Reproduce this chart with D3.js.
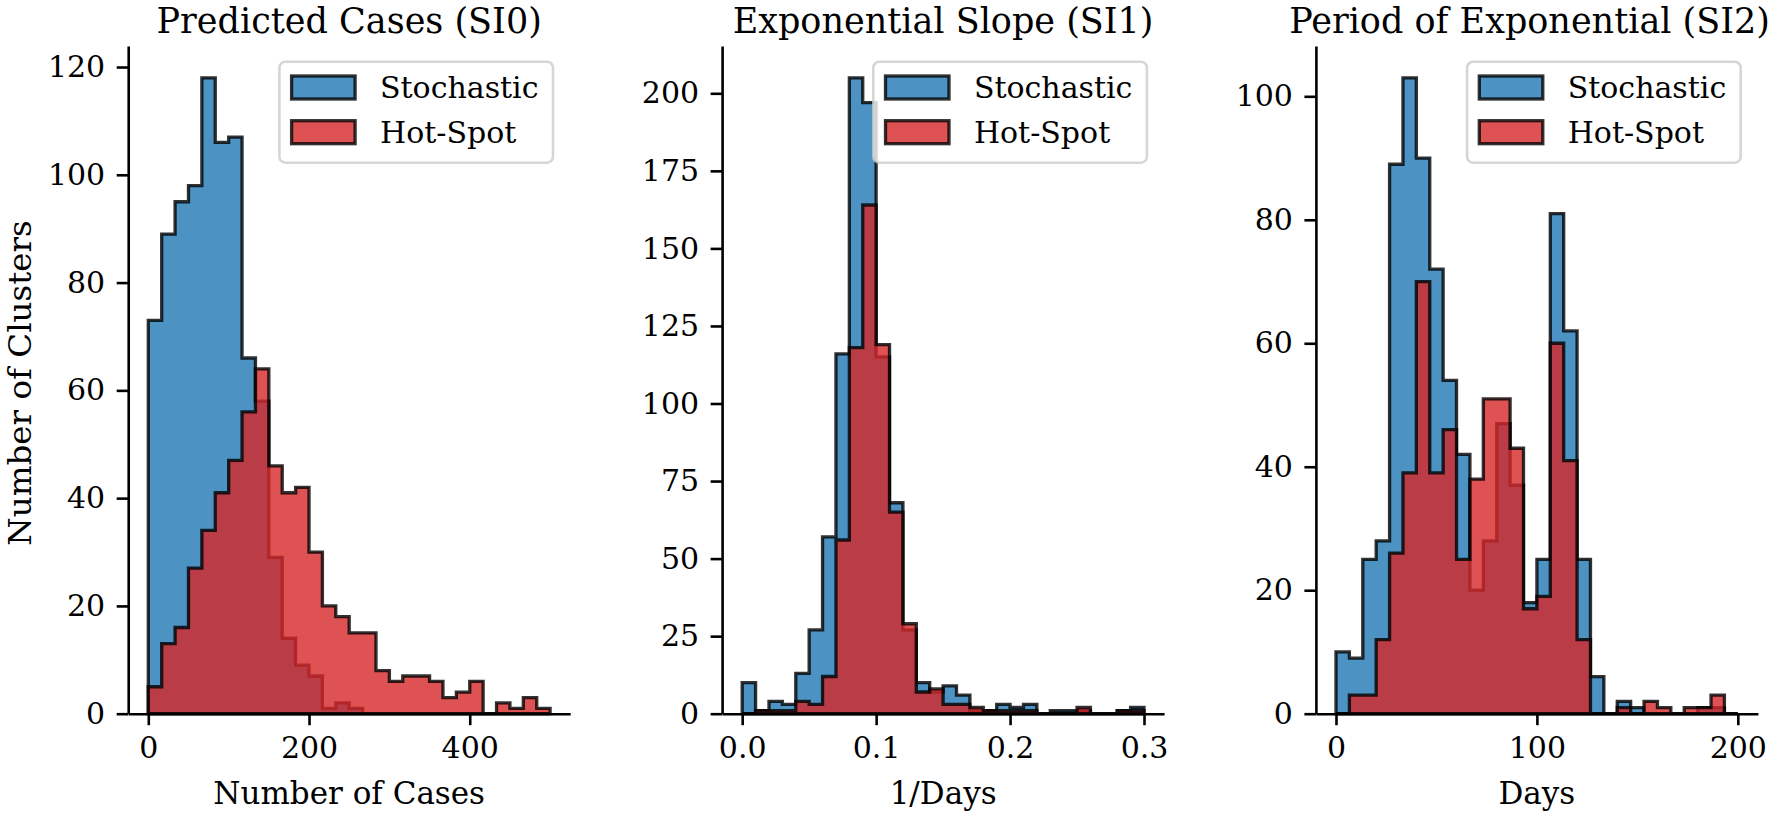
<!DOCTYPE html>
<html>
<head>
<meta charset="utf-8">
<script src="https://cdn.jsdelivr.net/npm/d3@7/dist/d3.min.js"></script>
<style>
  html, body { margin: 0; padding: 0; background: #fff; }
  svg { display: block; }
  text { font-family: "DejaVu Serif", serif; fill: #000; }
</style>
</head>
<body>
<svg id="chart" width="1772" height="813"></svg>
<script>
// ---------------- DATA ----------------
const seriesNames = ["Stochastic", "Hot-Spot"];
const panelTitles = ["Predicted Cases (SI0)", "Exponential Slope (SI1)", "Period of Exponential (SI2)"];
const xAxisLabels = ["Number of Cases", "1/Days", "Days"];
const yAxisLabel = "Number of Clusters";

// Panel 1: Number of cases (30 bins from 0 to 500)
const casesBinRange = [0, 500];
const casesStochastic = [73, 89, 95, 98, 118, 106, 107, 66, 58, 29, 14, 9, 7, 1, 2, 1, 0, 0, 0, 0, 0, 0, 0, 0, 0, 0, 0, 0, 0, 0];
const casesHotSpot    = [5, 13, 16, 27, 34, 41, 47, 56, 64, 46, 41, 42, 30, 20, 18, 15, 15, 8, 6, 7, 7, 6, 3, 4, 6, 0, 2, 1, 3, 1];
const casesXTicks = [0, 200, 400];
const casesYTicks = [0, 20, 40, 60, 80, 100, 120];

// Panel 2: Exponential slope (30 bins from 0 to 0.3)
const slopeBinRange = [0, 0.3];
const slopeStochastic = [10, 1, 4, 3, 13, 27, 57, 116, 205, 197, 115, 68, 27, 10, 7, 9, 6, 1, 1, 3, 2, 3, 0, 1, 1, 1, 0, 0, 1, 2];
const slopeHotSpot    = [0, 1, 1, 1, 4, 3, 12, 56, 118, 164, 119, 65, 29, 7, 8, 3, 3, 2, 1, 1, 1, 1, 0, 0, 0, 2, 0, 0, 1, 1];
const slopeXTicks = [0.0, 0.1, 0.2, 0.3];
const slopeYTicks = [0, 25, 50, 75, 100, 125, 150, 175, 200];

// Panel 3: Period of exponential (30 bins from 0 to 200)
const periodBinRange = [0, 200];
const periodStochastic = [10, 9, 25, 28, 89, 103, 90, 72, 54, 42, 20, 28, 47, 37, 18, 25, 81, 62, 25, 6, 0, 2, 1, 0, 0, 0, 0, 1, 1, 0];
const periodHotSpot    = [0, 3, 3, 12, 26, 39, 70, 39, 46, 25, 38, 51, 51, 43, 17, 19, 60, 41, 12, 0, 0, 1, 0, 2, 1, 0, 1, 1, 3, 0];
const periodXTicks = [0, 100, 200];
const periodYTicks = [0, 20, 40, 60, 80, 100];

// ---------------- LAYOUT / STYLE ----------------
const TICK_FONT = 30, LEGEND_FONT = 30, XLABEL_FONT = 31, YLABEL_FONT = 32.5, TITLE_FONT = 35;
const colors = ["#1f77b4", "#d62728"];
const layout = { lefts: [128.2, 722.1, 1315.9], width: 442, top: 46, bottom: 713.7 };
const tickLen = 11.5, tickPad = 11.5, axisLW = 2.6, edgeLW = 3.3;
const W = 1772;

const panels = [
  { title: panelTitles[0], xlabel: xAxisLabels[0], range: casesBinRange, series: [casesStochastic, casesHotSpot], xTicks: casesXTicks, yTicks: casesYTicks, xFmt: d3.format("d") },
  { title: panelTitles[1], xlabel: xAxisLabels[1], range: slopeBinRange, series: [slopeStochastic, slopeHotSpot], xTicks: slopeXTicks, yTicks: slopeYTicks, xFmt: d3.format(".1f") },
  { title: panelTitles[2], xlabel: xAxisLabels[2], range: periodBinRange, series: [periodStochastic, periodHotSpot], xTicks: periodXTicks, yTicks: periodYTicks, xFmt: d3.format("d") }
];

const svg = d3.select("#chart");

panels.forEach((p, pi) => {
  const left = layout.lefts[pi], right = left + layout.width;
  const [lo, hi] = p.range;
  const span = hi - lo;
  const maxCount = d3.max(p.series.flat());
  const x = d3.scaleLinear().domain([lo - 0.05 * span, hi + 0.05 * span]).range([left, right]);
  const y = d3.scaleLinear().domain([0, maxCount * 1.05]).range([layout.bottom, layout.top]);
  const g = svg.append("g");

  // histograms (stepfilled)
  p.series.forEach((counts, si) => {
    const n = counts.length;
    const edges = d3.range(n + 1).map(i => lo + i * span / n);
    const pts = [[edges[0], 0]];
    counts.forEach((c, i) => { pts.push([edges[i], c]); pts.push([edges[i + 1], c]); });
    pts.push([edges[n], 0]);
    const line = d3.line().x(d => x(d[0])).y(d => y(d[1]));
    g.append("path")
      .attr("d", line(pts) + "Z")
      .attr("fill", colors[si]).attr("fill-opacity", 0.8)
      .attr("stroke", "#000").attr("stroke-opacity", 0.8)
      .attr("stroke-width", edgeLW).attr("stroke-linejoin", "miter");
  });

  // axes
  const yAxis = d3.axisLeft(y).tickValues(p.yTicks).tickFormat(d3.format("d"))
    .tickSize(tickLen).tickSizeOuter(0).tickPadding(tickPad);
  const xAxis = d3.axisBottom(x).tickValues(p.xTicks).tickFormat(p.xFmt)
    .tickSize(tickLen).tickSizeOuter(0).tickPadding(tickPad);

  const gy = g.append("g").attr("transform", `translate(${left},0)`).call(yAxis);
  const gx = g.append("g").attr("transform", `translate(0,${layout.bottom})`).call(xAxis);
  [gx, gy].forEach(a => {
    a.select(".domain").attr("stroke", "#000").attr("stroke-width", axisLW);
    a.selectAll(".tick line").attr("stroke", "#000").attr("stroke-width", axisLW);
    a.selectAll(".tick text").attr("font-size", TICK_FONT).attr("font-family", "DejaVu Serif").attr("fill", "#000");
  });

  // title (centred over the axes, nudged inside the page if needed)
  const t = g.append("text").attr("x", (left + right) / 2).attr("y", 33)
    .attr("text-anchor", "middle").attr("font-size", TITLE_FONT).text(p.title);
  const bb = t.node().getBBox();
  if (bb.x + bb.width > W - 2) t.attr("x", (left + right) / 2 - (bb.x + bb.width - (W - 2)));

  // x label
  g.append("text").attr("x", (left + right) / 2).attr("y", 804)
    .attr("text-anchor", "middle").attr("font-size", XLABEL_FONT).text(p.xlabel);
  // y label
  if (pi === 0) {
    g.append("text").attr("transform", `translate(31,383) rotate(-90)`)
      .attr("text-anchor", "middle").attr("font-size", YLABEL_FONT).text(yAxisLabel);
  }

  // legend
  const lgW = 273.6, lgH = 101, lgRight = right - 17.2, lgTop = 61.7;
  const lg = g.append("g").attr("transform", `translate(${lgRight - lgW},${lgTop})`);
  lg.append("rect").attr("width", lgW).attr("height", lgH).attr("rx", 6).attr("ry", 6)
    .attr("fill", "#fff").attr("fill-opacity", 0.8)
    .attr("stroke", "#cccccc").attr("stroke-opacity", 0.8).attr("stroke-width", axisLW);
  seriesNames.forEach((name, si) => {
    const rowTop = 14.3 + si * 44.7;
    lg.append("rect").attr("x", 12.2).attr("y", rowTop).attr("width", 63.5).attr("height", 23)
      .attr("fill", colors[si]).attr("fill-opacity", 0.8)
      .attr("stroke", "#000").attr("stroke-opacity", 0.8).attr("stroke-width", edgeLW);
    lg.append("text").attr("x", 100.6).attr("y", rowTop + 11.5).attr("dy", "0.35em")
      .attr("font-size", LEGEND_FONT).text(name);
  });
});
</script>
</body>
</html>
